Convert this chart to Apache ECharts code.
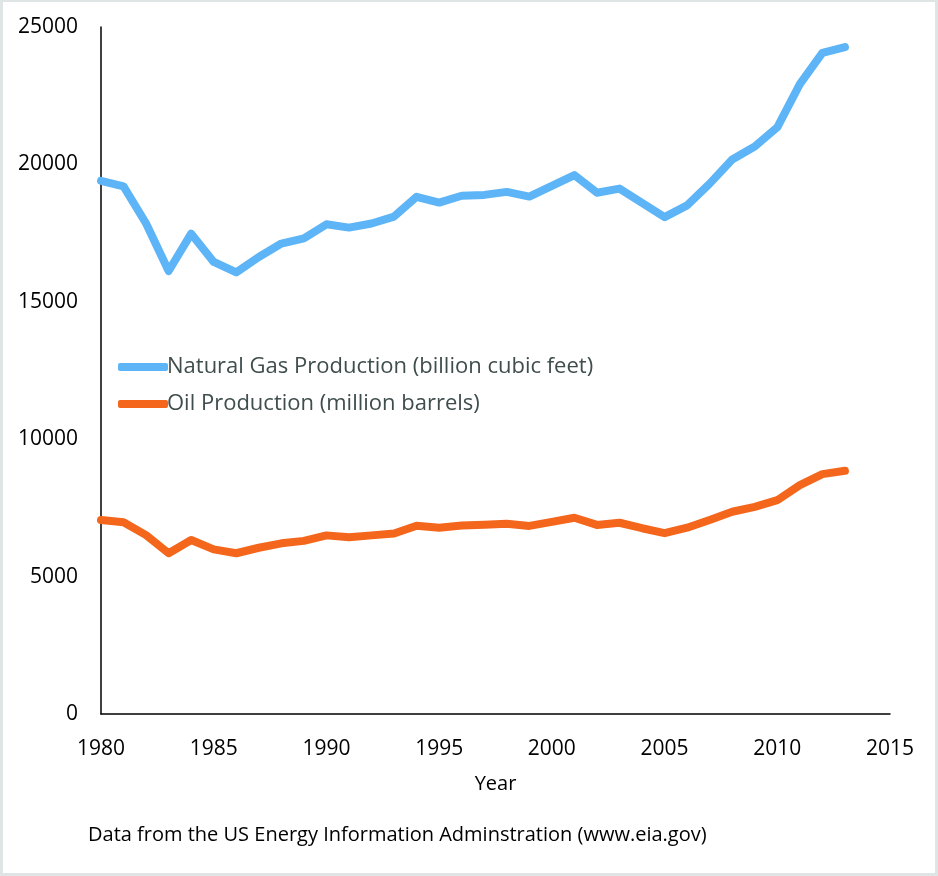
<!DOCTYPE html>
<html>
<head>
<meta charset="utf-8">
<script src="https://cdn.jsdelivr.net/npm/echarts@6/dist/echarts.min.js"></script>
<style>
html,body{margin:0;padding:0;background:#fff;}
#frame{width:938px;height:876px;box-sizing:border-box;border:3px solid #dfe5e5;border-top-width:2px;position:relative;overflow:hidden;}
#chart{position:absolute;left:-3px;top:-2px;width:938px;height:876px;}
</style>
</head>
<body>
<div id="frame"><div id="chart"></div></div>
<script>
const years = [1980,1981,1982,1983,1984,1985,1986,1987,1988,1989,1990,1991,1992,1993,1994,1995,1996,1997,1998,1999,2000,2001,2002,2003,2004,2005,2006,2007,2008,2009,2010,2011,2012,2013];
const gasProduction = [19400,19200,17850,16120,17480,16450,16070,16630,17120,17310,17820,17700,17850,18100,18820,18610,18860,18890,19000,18830,19220,19610,18970,19120,18600,18080,18510,19300,20180,20650,21350,22920,24060,24270];
const oilProduction = [7060,6975,6510,5850,6330,5990,5850,6050,6210,6300,6500,6430,6500,6570,6850,6780,6860,6890,6920,6845,6990,7140,6880,6960,6760,6580,6780,7060,7360,7540,7780,8330,8730,8850];
const seriesNames = ['Natural Gas Production (billion cubic feet)','Oil Production (million barrels)'];
const xAxisName = 'Year';
const footnote = 'Data from the US Energy Information Adminstration (www.eia.gov)';

const font = '"Open Sans", sans-serif';
const chart = echarts.init(document.getElementById('chart'), null, {renderer:'canvas'});
chart.setOption({
  animation:false,
  backgroundColor:'transparent',
  grid:{left:101,right:48,top:27,bottom:162,containLabel:false},
  legend:{
    orient:'vertical', left:113, top:351, itemGap:15,
    itemWidth:50, itemHeight:8, icon:'roundRect',
    textStyle:{fontFamily:font,fontSize:22,color:'#404d4d',padding:[0,0,0,-6]},
    data:seriesNames
  },
  xAxis:{
    type:'value', min:1980, max:2015, interval:5,
    name:xAxisName, nameLocation:'middle', nameGap:60,
    nameTextStyle:{fontFamily:font,fontSize:20,color:'#000'},
    axisLine:{show:true,lineStyle:{color:'#000',width:1.5}},
    axisTick:{show:false}, splitLine:{show:false},
    axisLabel:{fontFamily:font,fontSize:21,color:'#000',margin:25,formatter:v=>String(v)}
  },
  yAxis:{
    type:'value', min:0, max:25000, interval:5000,
    axisLine:{show:true,lineStyle:{color:'#000',width:1.5}},
    axisTick:{show:false}, splitLine:{show:false},
    axisLabel:{fontFamily:font,fontSize:21,color:'#000',margin:23,formatter:v=>String(v)}
  },
  series:[
    {name:seriesNames[0],type:'line',data:years.map((y,i)=>[y,gasProduction[i]]),
     showSymbol:false,symbol:'none',lineStyle:{color:'#5db4f6',width:8,cap:'round',join:'round'},itemStyle:{color:'#5db4f6'}},
    {name:seriesNames[1],type:'line',data:years.map((y,i)=>[y,oilProduction[i]]),
     showSymbol:false,symbol:'none',lineStyle:{color:'#f4661b',width:8,cap:'round',join:'round'},itemStyle:{color:'#f4661b'}}
  ],
  graphic:[{type:'text',left:88,top:825,style:{text:footnote,fontFamily:font,fontSize:20,fill:'#000'}}]
});
</script>
</body>
</html>
